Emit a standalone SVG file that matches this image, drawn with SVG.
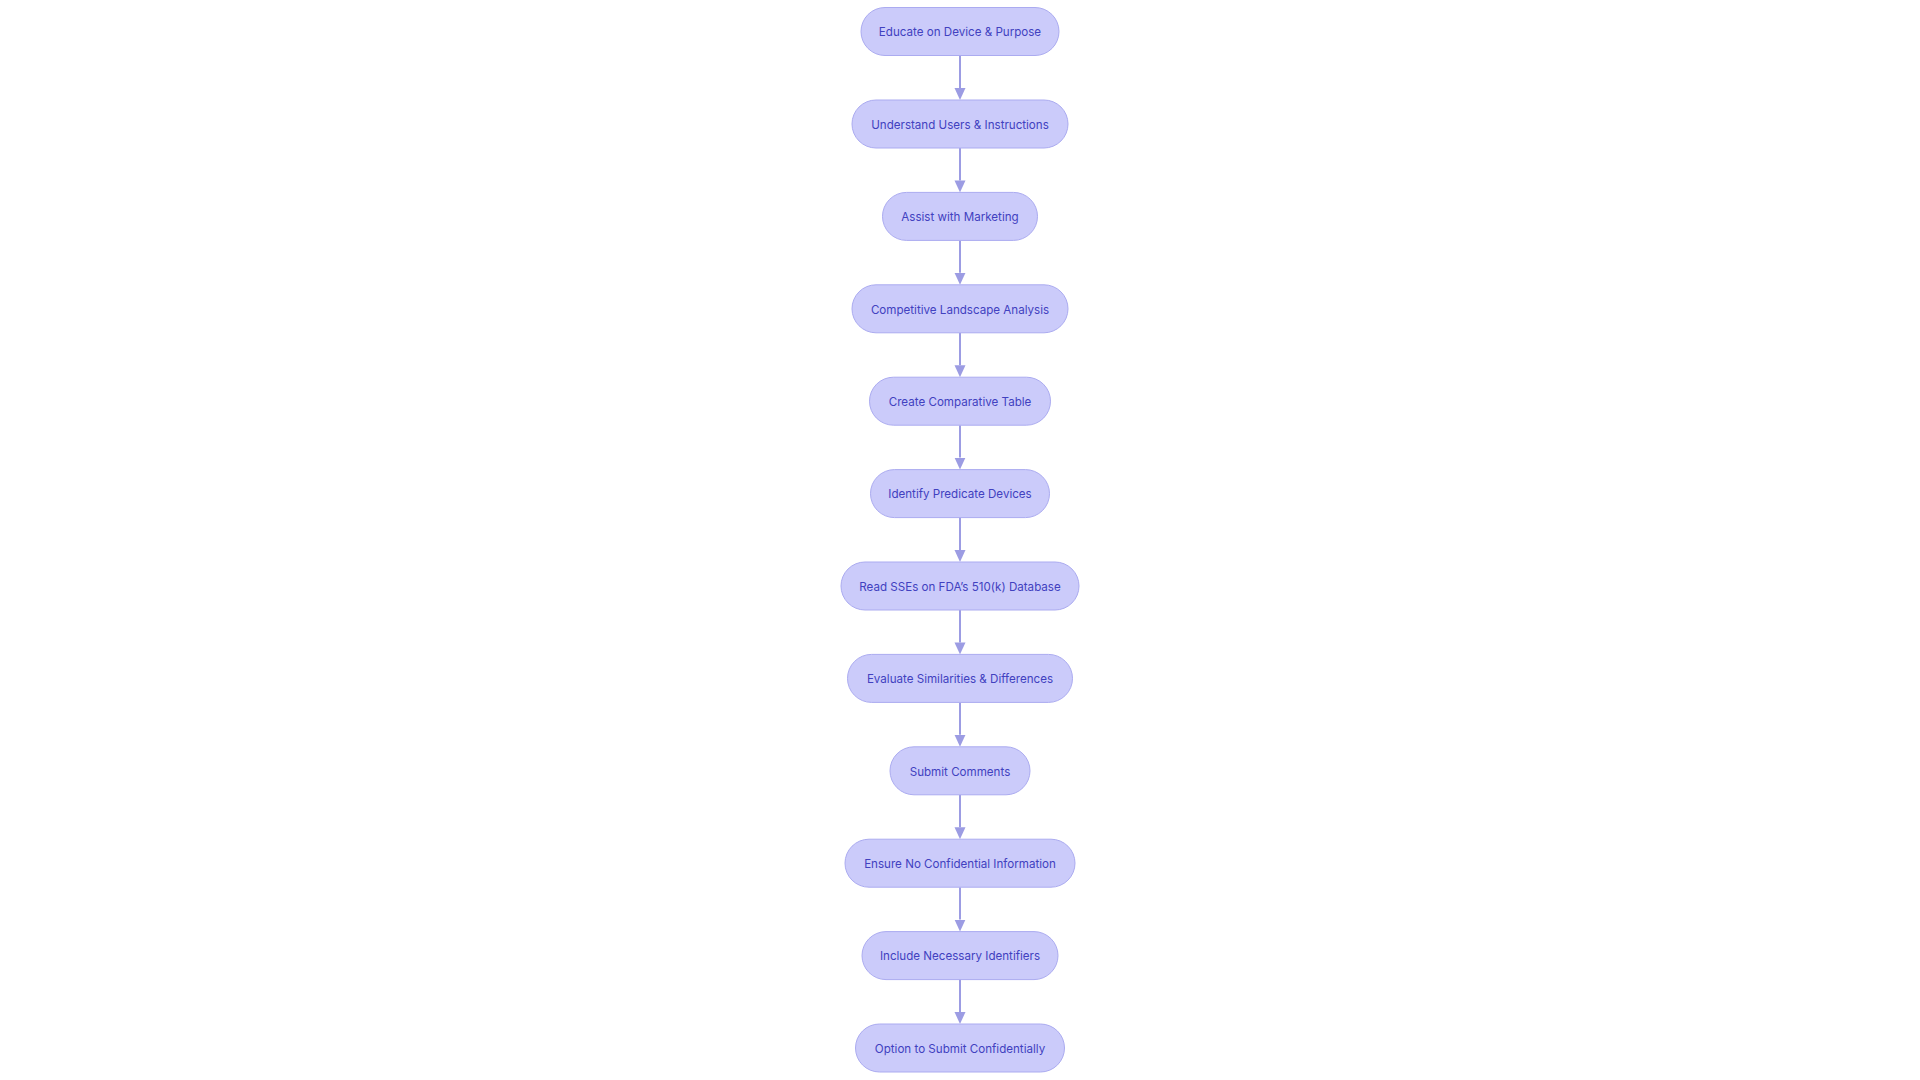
<svg xmlns="http://www.w3.org/2000/svg" width="1920" height="1080" viewBox="0 0 1920 1080">
<style>
.node rect{fill:#CBCBFA;stroke:#ABABF0;stroke-width:1}
.node text{font-family:Inter,"Liberation Sans",sans-serif;font-size:11.6px;fill:#4141C0;text-anchor:middle;dominant-baseline:central}
.edges line{stroke:#9C9CE3;stroke-width:2;fill:none}
</style>
<defs>
<marker id="arr" markerUnits="userSpaceOnUse" viewBox="0 0 12 12" refX="0" refY="6" markerWidth="12" markerHeight="12" orient="auto">
<path d="M0,0.5 L12,6 L0,11.5 z" fill="#9C9CE3"/>
</marker>
</defs>
<rect width="1920" height="1080" fill="#FFFFFF"/>
<g class="edges">
<line x1="960" y1="55.5" x2="960" y2="88" marker-end="url(#arr)"/>
<line x1="960" y1="148" x2="960" y2="180.4" marker-end="url(#arr)"/>
<line x1="960" y1="240.4" x2="960" y2="272.8" marker-end="url(#arr)"/>
<line x1="960" y1="332.8" x2="960" y2="365.2" marker-end="url(#arr)"/>
<line x1="960" y1="425.2" x2="960" y2="457.6" marker-end="url(#arr)"/>
<line x1="960" y1="517.6" x2="960" y2="550" marker-end="url(#arr)"/>
<line x1="960" y1="610" x2="960" y2="642.4" marker-end="url(#arr)"/>
<line x1="960" y1="702.4" x2="960" y2="734.8" marker-end="url(#arr)"/>
<line x1="960" y1="794.8" x2="960" y2="827.2" marker-end="url(#arr)"/>
<line x1="960" y1="887.2" x2="960" y2="919.6" marker-end="url(#arr)"/>
<line x1="960" y1="979.6" x2="960" y2="1012" marker-end="url(#arr)"/>
</g>
<g id="n1" class="node"><rect x="861" y="7.5" width="198" height="48" rx="24"/><text x="960" y="32.3">Educate on Device &amp; Purpose</text></g>
<g id="n2" class="node"><rect x="852" y="100" width="216" height="48" rx="24"/><text x="960" y="124.8">Understand Users &amp; Instructions</text></g>
<g id="n3" class="node"><rect x="882.5" y="192.4" width="155" height="48" rx="24"/><text x="960" y="217.2">Assist with Marketing</text></g>
<g id="n4" class="node"><rect x="852" y="284.8" width="216" height="48" rx="24"/><text x="960" y="309.6">Competitive Landscape Analysis</text></g>
<g id="n5" class="node"><rect x="869.5" y="377.2" width="181" height="48" rx="24"/><text x="960" y="402">Create Comparative Table</text></g>
<g id="n6" class="node"><rect x="870.5" y="469.6" width="179" height="48" rx="24"/><text x="960" y="494.4">Identify Predicate Devices</text></g>
<g id="n7" class="node"><rect x="841" y="562" width="238" height="48" rx="24"/><text x="960" y="586.8">Read SSEs on FDA’s 510(k) Database</text></g>
<g id="n8" class="node"><rect x="847.5" y="654.4" width="225" height="48" rx="24"/><text x="960" y="679.2">Evaluate Similarities &amp; Differences</text></g>
<g id="n9" class="node"><rect x="890" y="746.8" width="140" height="48" rx="24"/><text x="960" y="771.6">Submit Comments</text></g>
<g id="n10" class="node"><rect x="845" y="839.2" width="230" height="48" rx="24"/><text x="960" y="864">Ensure No Confidential Information</text></g>
<g id="n11" class="node"><rect x="862" y="931.6" width="196" height="48" rx="24"/><text x="960" y="956.4">Include Necessary Identifiers</text></g>
<g id="n12" class="node"><rect x="855.5" y="1024" width="209" height="48" rx="24"/><text x="960" y="1048.8">Option to Submit Confidentially</text></g>
</svg>
